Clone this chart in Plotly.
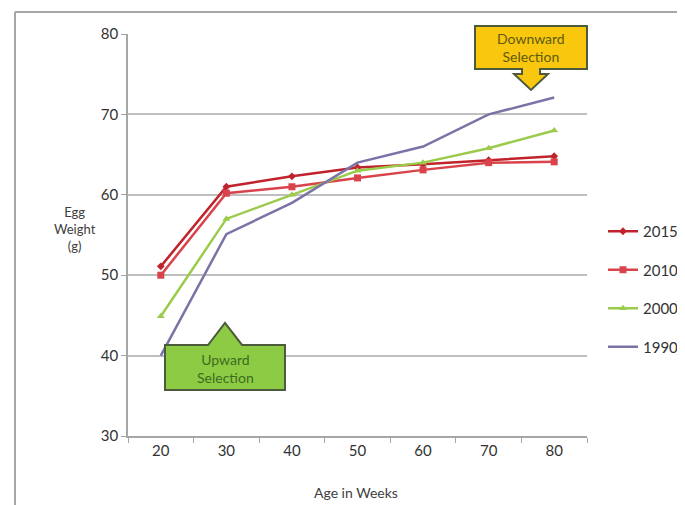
import plotly.graph_objects as go

weeks = [20, 30, 40, 50, 60, 70, 80]
w2015 = [51.1, 61.0, 62.3, 63.4, 63.8, 64.3, 64.8]
w2010 = [50.0, 60.2, 61.0, 62.1, 63.1, 64.0, 64.1]
w2000 = [44.9, 57.0, 60.0, 63.0, 64.0, 65.8, 68.0]
w1990 = [40.0, 55.1, 59.0, 64.0, 66.0, 70.0, 72.1]
xtick_labels = ["20", "30", "40", "50", "60", "70", "80"]

FONT = "Lato"
OFF = 8  # page body margin in the browser
W, H = 685, 505 - OFF
L, R, T, B = 128, 587, 34, 436  # plot area in window pixels


def px(x):
    return (x - L) / (R - L)


def py(y):
    return (B - y) / (B - T)


def path(points):
    return "M " + " L ".join(f"{px(x):.4f},{py(y):.4f}" for x, y in points) + " Z"


fig = go.Figure()
series = [
    ("2015", w2015, "#C0232B", dict(symbol="diamond", size=6)),
    ("2010", w2010, "#D9434B", dict(symbol="square", size=7)),
    ("2000", w2000, "#9BCB4B", dict(symbol="triangle-up", size=7)),
    ("1990", w1990, "#7B73A6", None),
]
for name, vals, col, mk in series:
    fig.add_trace(go.Scatter(
        x=weeks, y=vals, name=name, legendgroup=name,
        mode="lines+markers" if mk else "lines",
        line=dict(color=col, width=2.5),
        marker=dict(color=col, **mk) if mk else None,
    ))

shapes = []
# outer frame
shapes.append(dict(type="line", xref="paper", yref="paper", x0=px(15), x1=px(700), y0=py(12), y1=py(12),
                   line=dict(color="#A6A6A6", width=2)))
shapes.append(dict(type="line", xref="paper", yref="paper", x0=px(15), x1=px(15), y0=py(12), y1=py(520),
                   line=dict(color="#A6A6A6", width=2)))
# downward callout
shapes.append(dict(type="path", xref="paper", yref="paper",
                   path=path([(475, 26), (587, 26), (587, 69), (540, 69), (540, 74), (548, 74), (531, 90),
                              (514, 74), (522, 74), (522, 69), (475, 69)]),
                   fillcolor="#F9C80E", line=dict(color="#4B5B3B", width=2)))
# upward callout
shapes.append(dict(type="path", xref="paper", yref="paper",
                   path=path([(165, 345), (208, 345), (225, 323), (242, 345), (285, 345), (285, 390), (165, 390)]),
                   fillcolor="#8DCB45", line=dict(color="#4B5B3B", width=2)))

annotations = [
    dict(text="Downward<br>Selection", xref="paper", yref="paper", x=px(531), y=py(47.5), showarrow=False,
         font=dict(family=FONT, size=14, color="#5E5A10"), xanchor="center", yanchor="middle"),
    dict(text="Upward<br>Selection", xref="paper", yref="paper", x=px(225), y=py(368), showarrow=False,
         font=dict(family=FONT, size=14, color="#3E6B1E"), xanchor="center", yanchor="middle"),
    dict(text="Egg<br>Weight<br>(g)", xref="paper", yref="paper", x=px(75), y=py(229), showarrow=False,
         font=dict(family=FONT, size=13, color="#404040"), xanchor="center", yanchor="middle"),
    dict(text="Age in Weeks", xref="paper", yref="paper", x=px(356), y=py(492), showarrow=False,
         font=dict(family=FONT, size=14, color="#404040"), xanchor="center", yanchor="middle"),
]

fig.update_layout(
    width=W, height=H,
    margin=dict(l=L - OFF, r=W - (R - OFF), t=T - OFF, b=H - (B - OFF), autoexpand=False),
    paper_bgcolor="white", plot_bgcolor="white",
    font=dict(family=FONT, color="#404040"),
    shapes=shapes, annotations=annotations,
    legend=dict(x=px(603), y=py(215), xanchor="left", yanchor="top",
                font=dict(family=FONT, size=15, color="#333333"), tracegroupgap=16,
                bgcolor="rgba(0,0,0,0)", borderwidth=0),
    xaxis=dict(range=[15, 85], tickvals=weeks, ticktext=xtick_labels, ticks="",
               showgrid=False, zeroline=False, showline=True, linecolor="#A6A6A6", linewidth=1.5,
               tickfont=dict(family=FONT, size=15, color="#333333"),
               minor=dict(tickvals=[15, 25, 35, 45, 55, 65, 75, 85], ticks="outside", ticklen=5,
                          tickcolor="#A6A6A6", showgrid=False)),
    yaxis=dict(range=[30, 80], dtick=10, tick0=30, ticks="outside", ticklen=5, tickcolor="#A6A6A6",
               showgrid=True, gridcolor="#BFBFBF", gridwidth=1.5, zeroline=False,
               showline=True, linecolor="#A6A6A6", linewidth=1.5,
               tickfont=dict(family=FONT, size=15, color="#333333")),
)

fig.write_html("out.html")
